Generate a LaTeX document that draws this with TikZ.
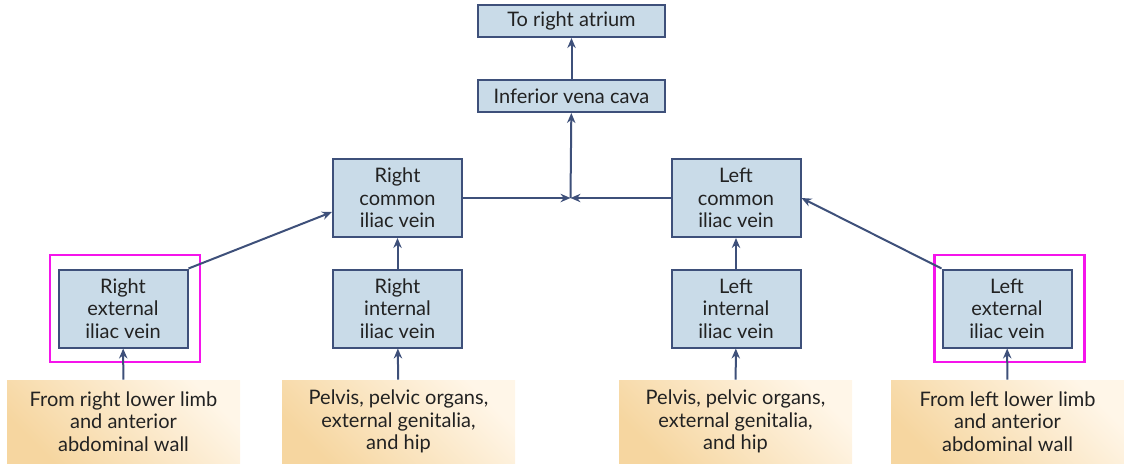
\documentclass[tikz,border=0pt]{standalone}
\usepackage{fontspec}
\setmainfont{Lato}
\usetikzlibrary{arrows.meta}
\definecolor{veinblue}{RGB}{201, 219, 232}
\definecolor{veinline}{RGB}{62, 80, 122}
\definecolor{srcdark}{RGB}{246, 214, 160}
\definecolor{srclight}{RGB}{255, 246, 232}
\definecolor{hilite}{RGB}{245, 20, 235}
\definecolor{textgray}{RGB}{34, 34, 34}

\begin{document}
\begin{tikzpicture}[x=0.5pt, y=-0.5pt, >={Stealth[length=5pt, width=4.2pt]},
    font=\fontsize{10}{11.3}\selectfont, text=textgray,
    vein/.style={draw=veinline, line width=1pt, fill=veinblue, align=center,
      inner sep=1pt, minimum width=64.5pt, minimum height=39pt},
    widevein/.style={vein, minimum width=93.5pt, minimum height=16pt},
    source/.style={align=center, inner sep=1pt, minimum width=116.5pt, minimum height=41.5pt,
      bottom color=srcdark, top color=srclight, shading angle=-45},
    hiframe/.style={draw=hilite, line width=1.3pt, minimum width=75pt, minimum height=53.5pt},
    flow/.style={->, draw=veinline, line width=1pt}]
  \useasboundingbox (0,0) rectangle (1124,471);
  % highlight frames
  \node[hiframe] (rextframe) at (125,308.5) {};
  \node[hiframe] (lextframe) at (1009.5,308.5) {};
  % top of the chain
  \node[widevein] (atrium) at (571.5,21) {To right atrium};
  \node[widevein] (ivc) at (571.5,96) {Inferior vena cava};
  % common iliac veins
  \node[vein] (rcommon) at (397.5,198) {Right\\common\\iliac vein};
  \node[vein] (lcommon) at (736,198) {Left\\common\\iliac vein};
  % external and internal iliac veins
  \node[vein] (rext) at (123,308.5) {Right\\external\\iliac vein};
  \node[vein] (rint) at (397.5,308.5) {Right\\internal\\iliac vein};
  \node[vein] (lint) at (736,308.5) {Left\\internal\\iliac vein};
  \node[vein] (lext) at (1007,308.5) {Left\\external\\iliac vein};
  % drained regions
  \node[source] (rlimb) at (123.5,421.5) {From right lower limb\\and anterior\\abdominal wall};
  \node[source] (rpelvis) at (398.5,421.5) {Pelvis, pelvic organs,\\external genitalia,\\and hip};
  \node[source] (lpelvis) at (735.5,421.5) {Pelvis, pelvic organs,\\external genitalia,\\and hip};
  \node[source] (llimb) at (1007.5,421.5) {From left lower limb\\and anterior\\abdominal wall};
  \coordinate (junction) at (570.5,198);
  % connectors
  \draw[flow] (rlimb) -- (rext);
  \draw[flow] (rpelvis) -- (rint);
  \draw[flow] (lpelvis) -- (lint);
  \draw[flow] (llimb) -- (lext);
  \draw[flow] (rext.north east) -- (rcommon.west |- 0,212);
  \draw[flow] (lext.north west) -- (lcommon.east);
  \draw[flow] (rint) -- (rcommon);
  \draw[flow] (lint) -- (lcommon);
  \draw[flow] (rcommon.east) -- (junction);
  \draw[flow] (lcommon.west) -- (junction);
  \draw[flow] (junction) -- (ivc);
  \draw[flow] (ivc) -- (atrium);
\end{tikzpicture}
\end{document}
